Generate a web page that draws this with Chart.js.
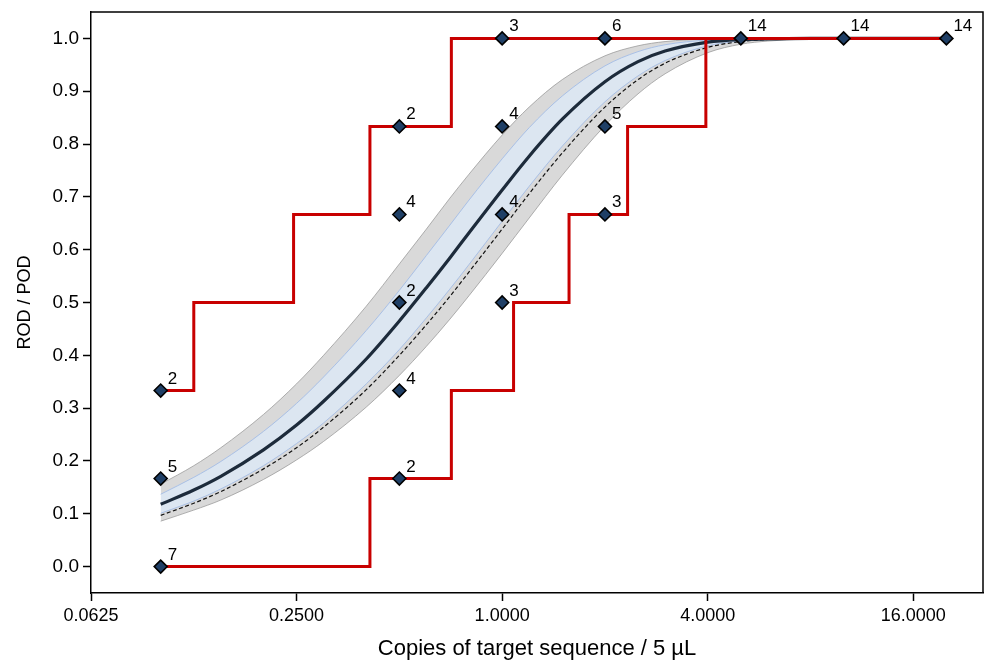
<!DOCTYPE html>
<html>
<head>
<meta charset="utf-8">
<script src="https://cdn.jsdelivr.net/npm/chart.js@4.4.1/dist/chart.umd.min.js"></script>
<style>
  html, body { margin: 0; padding: 0; background: #fff; overflow: hidden; }
  #wrap { width: 984px; height: 662px; }
  canvas { display: block; }
</style>
</head>
<body>
<div id="wrap"><canvas id="podChart" width="984" height="662"></canvas></div>
<script>
// POD / ROD curves

const curveX = [0.1, 0.125, 0.15, 0.2, 0.25, 0.3, 0.4, 0.5, 0.6, 0.7, 0.8, 1.0, 1.2, 1.5, 2, 2.5, 3, 4, 5, 6, 8, 10, 15, 20];
const fitY = [0.118, 0.145, 0.171, 0.221, 0.268, 0.313, 0.393, 0.465, 0.528, 0.583, 0.632, 0.713, 0.777, 0.847, 0.918, 0.956, 0.976, 0.993, 0.998, 0.999, 1, 1, 1, 1];
const dashedY = [0.097, 0.120, 0.142, 0.185, 0.225, 0.264, 0.335, 0.400, 0.458, 0.510, 0.558, 0.639, 0.706, 0.783, 0.870, 0.922, 0.953, 0.983, 0.994, 0.998, 1, 1, 1, 1];
const outerUpperY = [0.156, 0.191, 0.225, 0.288, 0.346, 0.400, 0.493, 0.573, 0.639, 0.696, 0.743, 0.817, 0.870, 0.922, 0.967, 0.986, 0.994, 0.999, 1, 1, 1, 1, 1, 1];
const outerLowerY = [0.086, 0.107, 0.126, 0.165, 0.202, 0.237, 0.302, 0.362, 0.417, 0.467, 0.513, 0.593, 0.660, 0.741, 0.835, 0.895, 0.933, 0.973, 0.989, 0.995, 0.999, 1, 1, 1];
const innerUpperY = [0.137, 0.169, 0.199, 0.256, 0.309, 0.359, 0.447, 0.523, 0.589, 0.645, 0.694, 0.772, 0.831, 0.891, 0.948, 0.975, 0.988, 0.997, 0.999, 1, 1, 1, 1, 1];
const innerLowerY = [0.101, 0.124, 0.147, 0.191, 0.233, 0.272, 0.346, 0.411, 0.471, 0.524, 0.572, 0.654, 0.720, 0.796, 0.880, 0.929, 0.958, 0.986, 0.995, 0.998, 1, 1, 1, 1];

// observed rates, with number of replicates next to each marker
const pointX = [0.1, 0.1, 0.1, 0.5, 0.5, 0.5, 0.5, 0.5, 1, 1, 1, 1, 2, 2, 2, 5, 10, 20];
const pointY = [0.3333, 0.1667, 0, 0.8333, 0.6667, 0.5, 0.3333, 0.1667, 1, 0.8333, 0.6667, 0.5, 1, 0.8333, 0.6667, 1, 1, 1];
const pointN = [2, 5, 7, 2, 4, 2, 4, 2, 3, 4, 4, 3, 6, 5, 3, 14, 14, 14];

// red step envelopes
const upperStepX = [0.1, 0.125, 0.245, 0.41, 0.71, 20];
const upperStepY = [0.3333, 0.5, 0.6667, 0.8333, 1, 1];
const lowerStepX = [0.1, 0.41, 0.71, 1.08, 1.57, 2.33, 3.95, 20];
const lowerStepY = [0, 0.1667, 0.3333, 0.5, 0.6667, 0.8333, 1, 1];

const xTicks = [0.0625, 0.25, 1, 4, 16];
const yTicks = [0, 0.1, 0.2, 0.3, 0.4, 0.5, 0.6, 0.7, 0.8, 0.9, 1.0];

function toXY(xs, ys) {
  return xs.map((x, i) => ({ x: x, y: ys[i] }));
}

const FONT = "'Liberation Sans', Arial, sans-serif";

// number labels next to the markers
const countLabels = {
  id: "countLabels",
  afterDatasetsDraw(chart) {
    const ctx = chart.ctx;
    const xs = chart.scales.x;
    const ys = chart.scales.y;
    ctx.save();
    ctx.fillStyle = "#000";
    ctx.font = "17px " + FONT;
    ctx.textAlign = "left";
    ctx.textBaseline = "alphabetic";
    pointN.forEach((n, i) => {
      const px = xs.getPixelForValue(pointX[i]);
      const py = ys.getPixelForValue(pointY[i]);
      ctx.fillText(String(n), px + 7, py - 7);
    });
    ctx.restore();
  },
};

// top/right frame lines
const frame = {
  id: "frame",
  afterDraw(chart) {
    const a = chart.chartArea;
    const ctx = chart.ctx;
    ctx.save();
    ctx.strokeStyle = "#000";
    ctx.lineWidth = 1.5;
    ctx.beginPath();
    ctx.moveTo(a.left, a.top);
    ctx.lineTo(a.right, a.top);
    ctx.lineTo(a.right, a.bottom);
    ctx.stroke();
    ctx.restore();
  },
};

const curveBase = {
  type: "line",
  pointRadius: 0,
  cubicInterpolationMode: "monotone",
};

const datasets = [
  // 0, 1: outer grey band
  Object.assign({}, curveBase, {
    data: toXY(curveX, outerUpperY),
    borderColor: "#9c9c9c",
    borderWidth: 0.8,
    backgroundColor: "#d9d9d9",
    fill: 1,
    order: 9,
  }),
  Object.assign({}, curveBase, {
    data: toXY(curveX, outerLowerY),
    borderColor: "#9c9c9c",
    borderWidth: 0.8,
    fill: false,
    order: 8,
  }),
  // 2, 3: inner blue band
  Object.assign({}, curveBase, {
    data: toXY(curveX, innerUpperY),
    borderColor: "#a9c0e6",
    borderWidth: 1,
    backgroundColor: "#dce6f1",
    fill: 3,
    order: 7,
  }),
  Object.assign({}, curveBase, {
    data: toXY(curveX, innerLowerY),
    borderColor: "#a9c0e6",
    borderWidth: 1,
    fill: false,
    order: 6,
  }),
  // dashed curve
  Object.assign({}, curveBase, {
    data: toXY(curveX, dashedY),
    borderColor: "#111",
    borderWidth: 1.2,
    borderDash: [4, 2.5],
    fill: false,
    order: 5,
  }),
  // fitted curve
  Object.assign({}, curveBase, {
    data: toXY(curveX, fitY),
    borderColor: "#1d2b3b",
    borderWidth: 3.2,
    fill: false,
    order: 4,
  }),
  // step envelopes
  {
    type: "line",
    data: toXY(lowerStepX, lowerStepY),
    stepped: true,
    borderColor: "#c80000",
    borderWidth: 3,
    pointRadius: 0,
    fill: false,
    order: 3,
  },
  {
    type: "line",
    data: toXY(upperStepX, upperStepY),
    stepped: true,
    borderColor: "#c80000",
    borderWidth: 3,
    pointRadius: 0,
    fill: false,
    order: 2,
  },
  // markers
  {
    type: "line",
    data: toXY(pointX, pointY),
    showLine: false,
    pointStyle: "rectRot",
    pointRadius: 6.5,
    pointBackgroundColor: "#1f3f66",
    pointBorderColor: "#000",
    pointBorderWidth: 1.6,
    order: 0,
  },
];

new Chart(document.getElementById("podChart"), {
  type: "line",
  data: { datasets: datasets },
  options: {
    responsive: false,
    animation: false,
    devicePixelRatio: 1,
    layout: { autoPadding: false, padding: { top: 12, right: 1, left: 0, bottom: 0 } },
    plugins: {
      legend: { display: false },
      tooltip: { enabled: false },
    },
    scales: {
      x: {
        type: "logarithmic",
        min: 0.0625,
        max: 25.6,
        afterBuildTicks: (scale) => {
          scale.ticks = xTicks.map((v) => ({ value: v }));
        },
        afterFit: (scale) => {
          scale.height = 69;
          scale.paddingLeft = 0;
          scale.paddingRight = 0;
        },
        ticks: {
          autoSkip: false,
          maxRotation: 0,
          padding: 4,
          color: "#000",
          font: { family: FONT, size: 18 },
          callback: (v) => Number(v).toFixed(4),
        },
        grid: {
          drawOnChartArea: false,
          drawTicks: true,
          tickLength: 8,
          tickWidth: 1.5,
          tickColor: "#000",
        },
        border: { display: true, color: "#000", width: 1.5 },
        title: {
          display: true,
          text: "Copies of target sequence / 5 µL",
          color: "#000",
          font: { family: FONT, size: 22 },
          padding: { top: 4, bottom: 0 },
        },
      },
      y: {
        type: "linear",
        min: -0.05,
        max: 1.05,
        afterBuildTicks: (scale) => {
          scale.ticks = yTicks.map((v) => ({ value: v }));
        },
        afterFit: (scale) => {
          scale.width = 91;
          scale.paddingTop = 0;
          scale.paddingBottom = 0;
        },
        ticks: {
          autoSkip: false,
          padding: 4,
          color: "#000",
          font: { family: FONT, size: 19 },
          callback: (v) => Number(v).toFixed(1),
        },
        grid: {
          drawOnChartArea: false,
          drawTicks: true,
          tickLength: 8,
          tickWidth: 1.5,
          tickColor: "#000",
        },
        border: { display: true, color: "#000", width: 1.5 },
        title: {
          display: true,
          text: "ROD / POD",
          color: "#000",
          font: { family: FONT, size: 18 },
          padding: { top: 14, bottom: 0 },
        },
      },
    },
  },
  plugins: [countLabels, frame],
});
</script>
</body>
</html>
